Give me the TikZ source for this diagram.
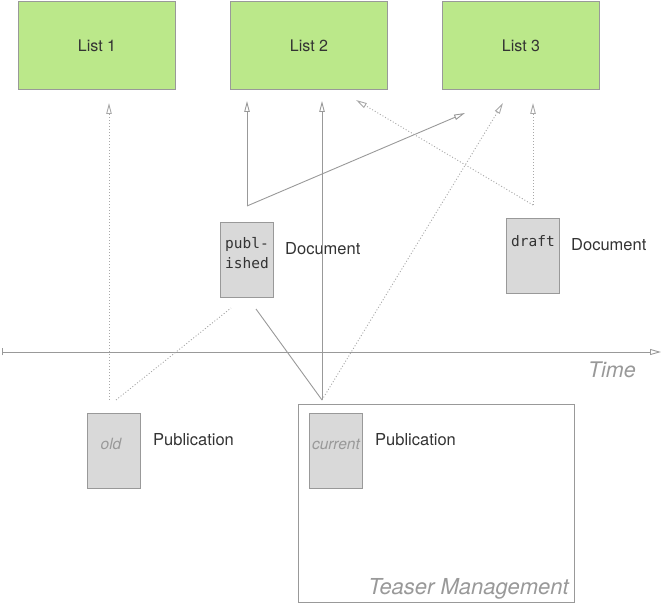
\documentclass[tikz,border=0pt]{standalone}
\usepackage{fontspec}
\setmainfont{TeX Gyre Heros}
\setmonofont{DejaVu Sans Mono}
\usetikzlibrary{arrows.meta,calc}
\definecolor{boxgreen}{HTML}{BBE88A}
\definecolor{linegray}{HTML}{999999}
\definecolor{docgray}{HTML}{D9D9D9}
\definecolor{txt}{HTML}{333333}
\definecolor{softgray}{HTML}{999999}
\tikzset{
  listbox/.style={draw=linegray, fill=boxgreen, line width=1pt, minimum width=157pt, minimum height=88pt, inner sep=0pt, anchor=north west, text=txt, font=\fontsize{16}{18}\selectfont},
  docbox/.style={draw=linegray, fill=docgray, line width=1pt, minimum width=53pt, minimum height=75pt, inner sep=0pt, anchor=north west},
  monotxt/.style={font=\ttfamily\fontsize{14.5}{20}\selectfont, text=txt, align=center, inner sep=0pt},
  softtxt/.style={font=\itshape\fontsize{15.5}{18}\selectfont, text=softgray, inner sep=0pt},
  labeltxt/.style={font=\fontsize{16.5}{20}\selectfont, text=txt, anchor=west, inner sep=0pt},
  arr/.style={draw=linegray, line width=0.9pt, -{Triangle[open, length=11pt, width=5.5pt]}},
  plainline/.style={draw=linegray, line width=0.9pt},
  dotline/.style={draw=linegray!85, line width=0.9pt, dash pattern=on 1pt off 2pt},
  dotarr/.style={dotline, -{Triangle[open, length=11pt, width=5.5pt]}},
}
\begin{document}
\begin{tikzpicture}[x=1pt, y=-1pt]
\useasboundingbox (0,0) rectangle (662,604);
% list boxes
\node[listbox] (l1) at (18,1) {List 1};
\node[listbox] (l2) at (230,1) {List 2};
\node[listbox] (l3) at (442,1) {List 3};
% teaser management frame
\node[draw=linegray, line width=1pt, minimum width=276pt, minimum height=198pt, inner sep=0pt, anchor=north west] (teaser) at (298,404) {};
\node[font=\itshape\fontsize{22}{24}\selectfont, text=softgray, anchor=south east, inner sep=0pt] (tmlabel) at ($(teaser.south east)+(-6,-4)$) {Teaser Management};
% documents
\node[docbox] (pub) at (220,222) {};
\node[monotxt, anchor=north] (pubtxt) at ($(pub.north)+(0,15)$) {publ-\\ished};
\node[labeltxt] (publ) at (285,249) {Document};
\node[docbox] (draft) at (506,218) {};
\node[monotxt, anchor=north] (drafttxt) at ($(draft.north)+(0,17)$) {draft};
\node[labeltxt] (draftl) at (571,245) {Document};
% publications
\node[docbox] (old) at (87,413) {};
\node[softtxt] (oldtxt) at ($(old.north)+(-3,31)$) {old};
\node[labeltxt] (oldl) at (153,440) {Publication};
\node[docbox] (cur) at (309,413) {};
\node[softtxt] (curtxt) at ($(cur.north)+(0,31)$) {current};
\node[labeltxt] (curl) at (375,440) {Publication};
% time axis
\coordinate (t0) at (2,352);
\coordinate (t1) at (661,352);
\draw[draw=linegray, line width=0.9pt, {Bar[width=7pt]}-{Triangle[open, length=11pt, width=6pt]}] (t0) -- (t1);
\node[font=\itshape\fontsize{21.5}{24}\selectfont, text=softgray, anchor=east, inner sep=0pt] (time) at (636,370) {Time};
% connector points
\coordinate (pt) at ($(pub.north)+(0,-16)$);
\coordinate (tm) at ($(teaser.north west)+(24,-4)$);
\coordinate (ot) at ($(old.north)+(-5,-13)$);
\coordinate (ot2) at ($(old.north)+(2,-13)$);
\coordinate (dt) at ($(draft.north)+(0,-13)$);
% published document -> lists
\draw[arr] (pt) -- ($(pt |- l2.south)+(0,11)$);
\draw[arr] (pt) -- ($(l3.south west)+(23,23)$);
% current publication
\draw[arr] (tm) -- ($(tm |- l2.south)+(0,11)$);
\draw[dotarr] (tm) -- ($(l3.south west)+(61,13)$);
\draw[plainline] (tm) -- ($(pub.south)+(9,11)$);
% old publication
\draw[dotarr] (ot) -- ($(ot |- l1.south)+(0,13)$);
\draw[dotline] (ot2) -- ($(pub.south)+(-16,10)$);
% draft document
\draw[dotarr] (dt) -- ($(dt |- l3.south)+(0,13)$);
\draw[dotarr] (dt) -- ($(l2.south east)+(-32,10)$);
\end{tikzpicture}
\end{document}
